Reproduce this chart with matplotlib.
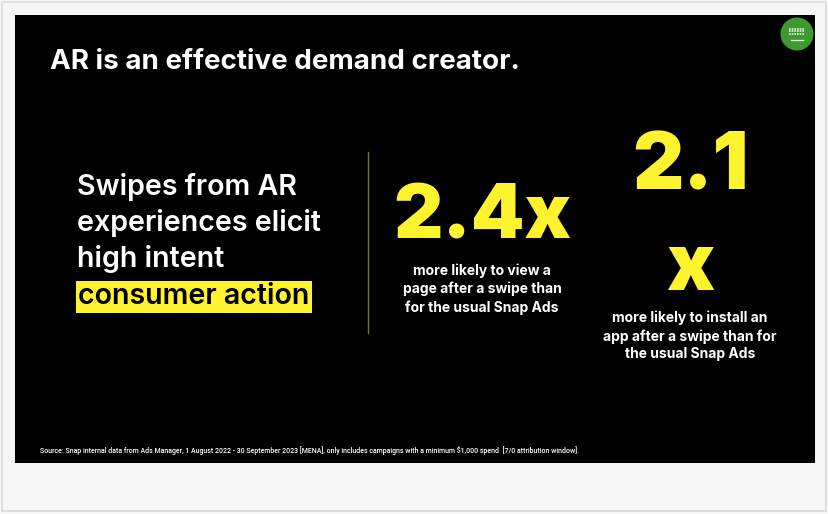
import matplotlib
matplotlib.use("Agg")
import matplotlib.pyplot as plt
from matplotlib.patches import Rectangle, Circle

# slide content
title = "AR is an effective demand creator."
claim_lines = ["Swipes from AR", "experiences elicit", "high intent"]
claim_highlight = "consumer action"
stat_labels = ["2.4x", "2.1\nx"]
stat_notes = [
    "more likely to view a\npage after a swipe than\nfor the usual Snap Ads",
    "more likely to install an\napp after a swipe than for\nthe usual Snap Ads",
]
source = ("Source: Snap internal data from Ads Manager, 1 August 2022 - 30 September 2023 [MENA], "
          "only includes campaigns with a minimum $1,000 spend  [7/0 attribution window].")

YELLOW = "#fff22e"
W, H = 829, 514

fig = plt.figure(figsize=(W / 100, H / 100), dpi=100, facecolor="#f7f7f7")
ax = fig.add_axes([0, 0, 1, 1])
ax.set_xlim(0, W)
ax.set_ylim(H, 0)
ax.axis("off")

# outer frame and the black slide
ax.add_patch(Rectangle((2, 2), W - 5, H - 5, fill=False, ec="#d9d9d9", lw=1.2))
ax.add_patch(Rectangle((15, 15), 800, 448, fc="black", ec="none"))

font = ["Inter", "DejaVu Sans"]

ax.text(50, 62, title, color="white", fontsize=20, fontweight="bold",
        family=font, va="center", ha="left")

# left claim
for i, line in enumerate(claim_lines):
    ax.text(77, 187 + i * 36, line, color="white", fontsize=20.6, fontweight="semibold",
            family=font, va="center", ha="left")
ax.text(78, 297, claim_highlight, color="black", fontsize=20.6, fontweight="semibold",
        family=font, va="center", ha="left",
        bbox=dict(boxstyle="square,pad=0.08", fc=YELLOW, ec="none"))

# divider
ax.plot([368, 368], [152, 333], color="#77741c", lw=1)

# stats
ax.text(482, 219, stat_labels[0], color=YELLOW, fontsize=55, fontweight="black",
        family=font, va="center", ha="center")
ax.text(482, 289, stat_notes[0], color="white", fontsize=10, fontweight="bold",
        family=font, va="center", ha="center", linespacing=1.35)

ax.text(690, 219, stat_labels[1], color=YELLOW, fontsize=57, fontweight="black",
        family=font, va="center", ha="center", linespacing=1.45)
ax.text(690, 336, stat_notes[1], color="white", fontsize=10, fontweight="bold",
        family=font, va="center", ha="center", linespacing=1.35)

# source
ax.text(40, 451, source, color="white", fontsize=5.0, fontweight="medium",
        family=["Roboto", "DejaVu Sans"], va="center", ha="left")

# badge in the corner
ax.add_patch(Circle((797, 34), 16.5, fc="#3e9a2e", ec="none"))
for dy in (28.5, 31, 33.5):
    ax.plot([789, 805], [dy, dy], color="white", lw=1.2, ls=(0, (1, 0.6)), alpha=0.9)
ax.plot([791, 803], [39.5, 39.5], color="white", lw=0.9)

fig.savefig("out.png", dpi=100, facecolor=fig.get_facecolor())
